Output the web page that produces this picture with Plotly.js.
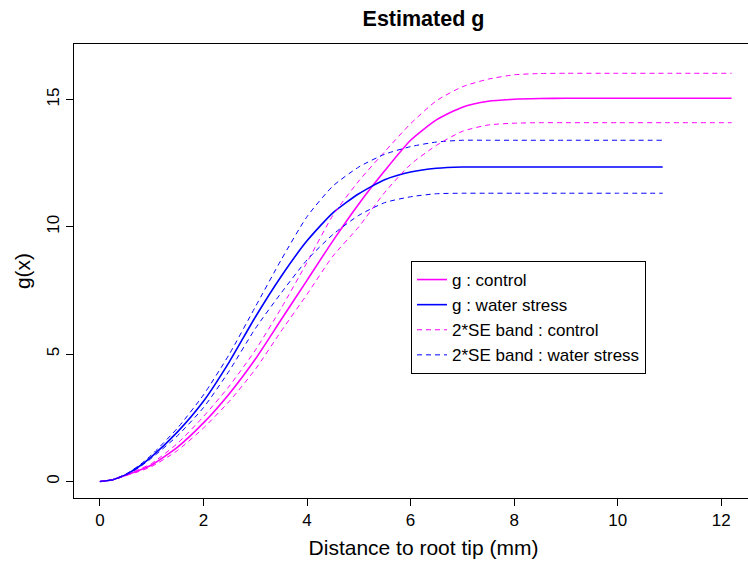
<!DOCTYPE html>
<html>
<head>
<meta charset="utf-8">
<script src="https://cdn.plot.ly/plotly-3.0.1.min.js"></script>
<style>
html, body { margin: 0; padding: 0; overflow: hidden; background: #fff; }
#chart { width: 773px; height: 565px; }
</style>
</head>
<body>
<div id="chart"></div>
<script>
// Distance to root tip (mm)
const xCtrl = [0, 0.25, 0.5, 0.75, 1, 1.5, 2, 2.5, 3, 3.5, 4, 4.5, 5, 5.5, 6, 6.5, 7, 7.5, 8, 8.5, 9, 10, 11, 12.2];
const xWs   = [0, 0.25, 0.5, 0.75, 1, 1.5, 2, 2.5, 3, 3.5, 4, 4.5, 5, 5.5, 6, 6.5, 7, 7.5, 8, 9, 10, 10.87];

// g : control
const gCtrl      = [0, 0.07, 0.25, 0.43, 0.65, 1.35, 2.3, 3.45, 4.8, 6.35, 7.9, 9.45, 10.9, 12.2, 13.4, 14.2, 14.7, 14.93, 15.01, 15.04, 15.05, 15.05, 15.05, 15.05];
const gCtrlUpper = [0, 0.08, 0.27, 0.47, 0.71, 1.5, 2.55, 3.75, 5.15, 6.8, 8.6, 10.45, 11.8, 12.95, 14.05, 14.95, 15.5, 15.8, 15.97, 16.02, 16.03, 16.03, 16.03, 16.03];
const gCtrlLower = [0, 0.06, 0.23, 0.39, 0.59, 1.22, 2.1, 3.15, 4.4, 5.9, 7.35, 8.85, 10.0, 11.35, 12.45, 13.2, 13.75, 14.0, 14.07, 14.09, 14.09, 14.09, 14.09, 14.09];

// g : water stress
const gWs      = [0, 0.07, 0.27, 0.58, 0.98, 1.95, 3.15, 4.7, 6.45, 8.05, 9.45, 10.55, 11.3, 11.85, 12.15, 12.3, 12.35, 12.35, 12.35, 12.35, 12.35, 12.35];
const gWsUpper = [0, 0.08, 0.29, 0.62, 1.05, 2.1, 3.4, 5.0, 6.85, 8.7, 10.4, 11.6, 12.35, 12.85, 13.15, 13.33, 13.4, 13.4, 13.4, 13.4, 13.4, 13.4];
const gWsLower = [0, 0.06, 0.25, 0.54, 0.92, 1.8, 2.9, 4.35, 6.0, 7.4, 8.7, 9.7, 10.45, 10.95, 11.18, 11.3, 11.32, 11.32, 11.32, 11.32, 11.32, 11.32];

const yTicks = [0, 5, 10, 15];
const xTicks = [0, 2, 4, 6, 8, 10, 12];

const MAG = '#FF00FF', BLUE = '#0000FF';
const dash = '5px,4px';
const sp = {shape: 'spline', smoothing: 0.6};

const traces = [
  {x: xCtrl, y: gCtrl, name: 'g : control', mode: 'lines', line: Object.assign({color: MAG, width: 1.6}, sp)},
  {x: xWs, y: gWs, name: 'g : water stress', mode: 'lines', line: Object.assign({color: BLUE, width: 1.6}, sp)},
  {x: xCtrl, y: gCtrlUpper, name: '2*SE band : control', mode: 'lines', line: Object.assign({color: MAG, width: 1, dash: dash}, sp)},
  {x: xWs, y: gWsUpper, name: '2*SE band : water stress', mode: 'lines', line: Object.assign({color: BLUE, width: 1, dash: dash}, sp)},
  {x: xCtrl, y: gCtrlLower, name: '2*SE band : control', showlegend: false, mode: 'lines', line: Object.assign({color: MAG, width: 1, dash: dash}, sp)},
  {x: xWs, y: gWsLower, name: '2*SE band : water stress', showlegend: false, mode: 'lines', line: Object.assign({color: BLUE, width: 1, dash: dash}, sp)}
];

const layout = {
  width: 773, height: 565,
  margin: {l: 74, r: 0, t: 44, b: 67, pad: 0},
  paper_bgcolor: '#fff', plot_bgcolor: '#fff',
  font: {family: '"Liberation Sans", Arial, Helvetica, sans-serif', color: '#000', size: 17},
  title: {text: '<b>Estimated g</b>', xref: 'paper', x: 0.5, xanchor: 'center', yref: 'container', y: 1 - 18 / 565, yanchor: 'middle', font: {size: 21.5}},
  showlegend: true,
  legend: {
    x: (411 - 74) / 699, y: (498 - 261) / 454, xanchor: 'left', yanchor: 'top',
    bordercolor: '#000', borderwidth: 1, bgcolor: '#fff',
    font: {size: 17}, tracegroupgap: 0, itemwidth: 30
  },
  xaxis: {
    range: [-0.5, 13.0], tickvals: xTicks, ticktext: xTicks.map(String),
    showgrid: false, zeroline: false, showline: true, mirror: true, linecolor: '#000', linewidth: 1,
    ticks: 'outside', ticklen: 7, tickcolor: '#000', tickwidth: 1, tickfont: {size: 17},
    title: {text: 'Distance to root tip (mm)', font: {size: 21}, standoff: 10}
  },
  yaxis: {
    range: [-0.648, 17.18], tickvals: yTicks, ticktext: yTicks.map(String), tickangle: -90,
    showgrid: false, zeroline: false, showline: true, mirror: true, linecolor: '#000', linewidth: 1,
    ticks: 'outside', ticklen: 7, tickcolor: '#000', tickwidth: 1, tickfont: {size: 17},
    title: {text: 'g(x)', font: {size: 21}, standoff: 7}
  }
};

Plotly.newPlot('chart', traces, layout, {displayModeBar: false, staticPlot: true});
</script>
</body>
</html>
